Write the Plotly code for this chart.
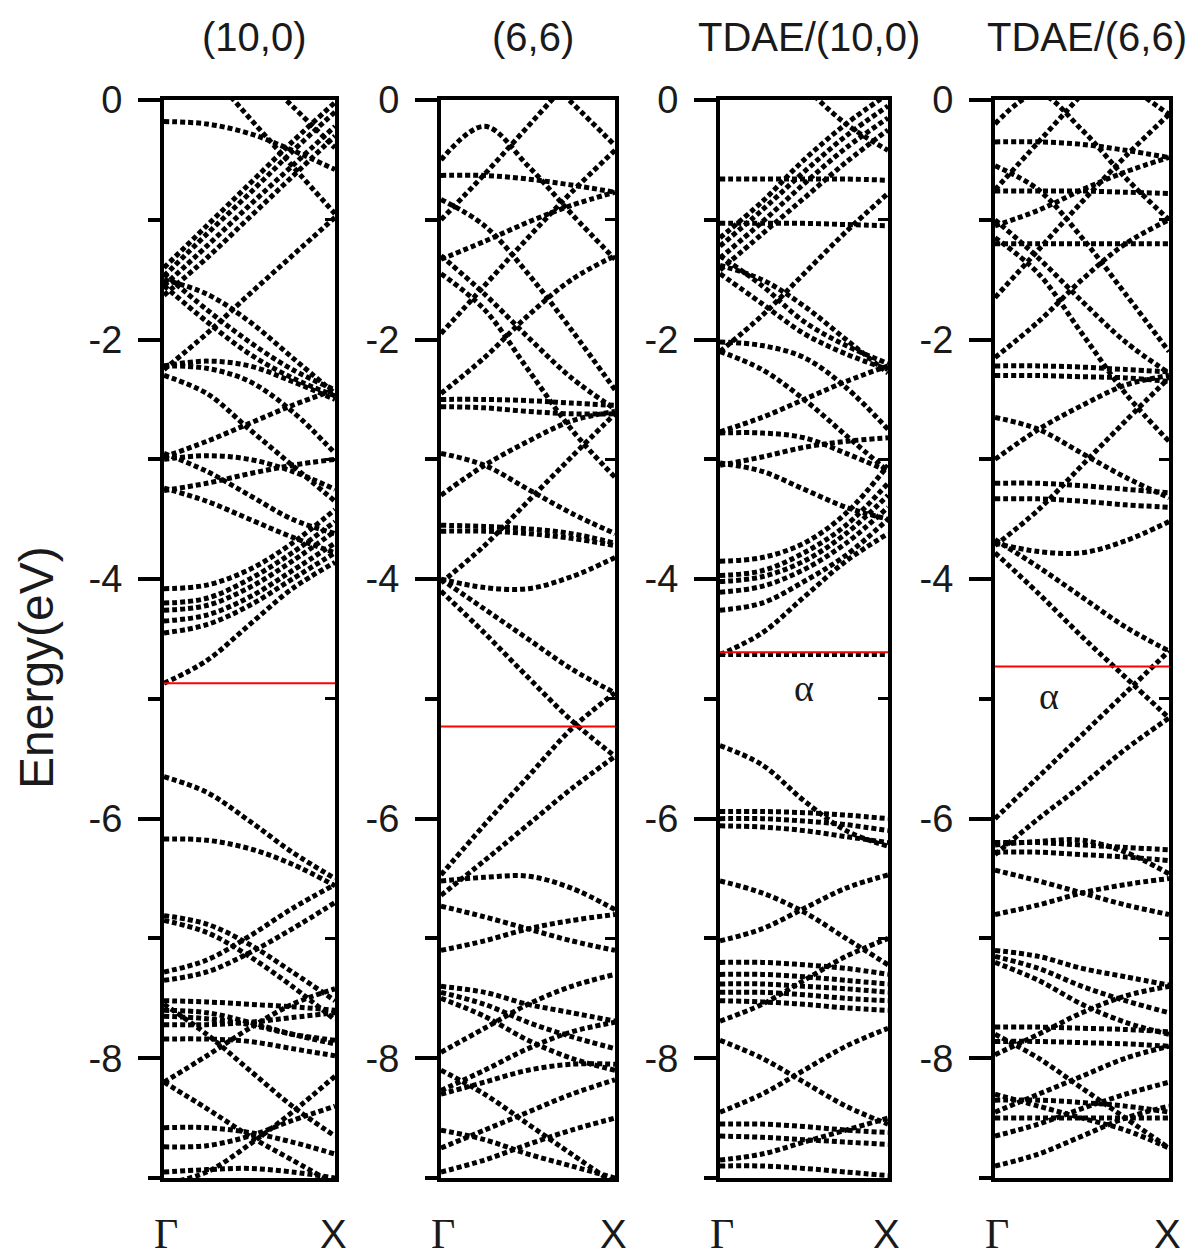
import plotly.graph_objects as go

# ---------------- data ----------------
K = [0.0, 0.25, 0.5, 0.75, 1.0]          # fractional k between Gamma and X
TITLES = ["(10,0)", "(6,6)", "TDAE/(10,0)", "TDAE/(6,6)"]
FERMI = [-4.87, -5.23, -4.61, -4.73]      # red Fermi-level lines (eV)
Y_TICKS = [0, -2, -4, -6, -8]
Y_TICK_TEXT = ["0", "-2", "-4", "-6", "-8"]
Y_MINOR = [-1, -3, -5, -7, -9]
K_LABELS = ["Γ", "X"]
ALPHA_PANELS = [2, 3]                     # panels carrying the "α" label
ALPHA_K = [0.5, 0.31]
ALPHA_E = [-4.91, -4.98]

BANDS_10_0 = [
    [-0.18, -0.20, -0.28, -0.42, -0.58],
    [0.60, 0.25, -0.15, -0.55, -0.95],
    [0.95, 0.65, 0.30, -0.05, -0.40],
    [-1.40, -1.05, -0.70, -0.35, -0.02],
    [-1.47, -1.12, -0.78, -0.43, -0.10],
    [-1.55, -1.22, -0.88, -0.55, -0.22],
    [-1.63, -1.32, -0.98, -0.64, -0.30],
    [-2.25, -1.95, -1.62, -1.30, -0.98],
    [-1.45, -1.75, -2.02, -2.25, -2.42],
    [-1.55, -1.85, -2.12, -2.32, -2.47],
    [-1.50, -1.62, -1.85, -2.15, -2.45],
    [-2.22, -2.24, -2.35, -2.60, -2.95],
    [-2.22, -2.18, -2.22, -2.35, -2.50],
    [-2.30, -2.45, -2.75, -3.05, -3.35],
    [-2.98, -2.85, -2.70, -2.55, -2.42],
    [-3.00, -2.97, -3.00, -3.10, -3.25],
    [-2.95, -3.10, -3.30, -3.50, -3.62],
    [-3.24, -3.35, -3.50, -3.65, -3.78],
    [-3.26, -3.20, -3.12, -3.05, -3.00],
    [-4.08, -4.05, -3.92, -3.70, -3.42],
    [-4.20, -4.16, -4.00, -3.78, -3.52],
    [-4.26, -4.22, -4.07, -3.85, -3.60],
    [-4.35, -4.30, -4.15, -3.93, -3.70],
    [-4.45, -4.38, -4.22, -4.00, -3.78],
    [-4.87, -4.68, -4.38, -4.08, -3.86],
    [-5.65, -5.78, -6.02, -6.28, -6.50],
    [-6.17, -6.18, -6.25, -6.38, -6.56],
    [-6.81, -6.88, -7.05, -7.28, -7.52],
    [-6.85, -6.95, -7.15, -7.40, -7.68],
    [-7.28, -7.18, -6.98, -6.75, -6.55],
    [-7.35, -7.28, -7.12, -6.92, -6.70],
    [-7.52, -7.53, -7.55, -7.57, -7.60],
    [-7.60, -7.62, -7.70, -7.80, -7.88],
    [-7.65, -7.67, -7.72, -7.80, -7.85],
    [-7.72, -7.72, -7.70, -7.66, -7.62],
    [-7.84, -7.84, -7.86, -7.92, -7.98],
    [-8.20, -7.98, -7.75, -7.55, -7.42],
    [-8.20, -8.42, -8.65, -8.85, -9.05],
    [-7.55, -7.80, -8.10, -8.40, -8.65],
    [-8.58, -8.58, -8.62, -8.70, -8.80],
    [-8.74, -8.73, -8.65, -8.52, -8.40],
    [-9.05, -8.95, -8.72, -8.45, -8.15],
    [-8.95, -8.93, -8.92, -8.95, -9.00],
]

BANDS_6_6 = [
    [-0.50, -0.22, -0.55, -0.95, -1.33],
    [-1.00, -0.62, -0.22, 0.18, 0.55],
    [1.00, 0.68, 0.32, -0.02, -0.38],
    [-1.95, -1.55, -1.15, -0.77, -0.42],
    [-0.63, -0.63, -0.66, -0.71, -0.77],
    [-1.33, -1.18, -1.02, -0.88, -0.77],
    [-0.83, -1.05, -1.45, -1.92, -2.42],
    [-1.30, -1.62, -1.98, -2.32, -2.58],
    [-2.45, -2.15, -1.80, -1.50, -1.30],
    [-1.45, -1.75, -2.25, -2.75, -3.15],
    [-2.50, -2.50, -2.51, -2.53, -2.55],
    [-2.56, -2.57, -2.60, -2.62, -2.62],
    [-2.95, -3.05, -3.25, -3.45, -3.62],
    [-3.30, -3.05, -2.85, -2.68, -2.60],
    [-3.55, -3.56, -3.58, -3.62, -3.70],
    [-3.60, -3.60, -3.62, -3.66, -3.72],
    [-4.00, -4.07, -4.08, -3.98, -3.82],
    [-4.03, -3.72, -3.35, -2.98, -2.62],
    [-4.00, -4.25, -4.50, -4.75, -4.95],
    [-4.10, -4.45, -4.82, -5.18, -5.48],
    [-6.47, -6.05, -5.65, -5.25, -4.95],
    [-6.64, -6.35, -6.05, -5.75, -5.48],
    [-6.52, -6.49, -6.48, -6.58, -6.76],
    [-6.73, -6.82, -6.92, -7.02, -7.10],
    [-7.10, -7.02, -6.92, -6.85, -6.80],
    [-7.40, -7.45, -7.55, -7.62, -7.69],
    [-7.45, -7.55, -7.70, -7.82, -7.92],
    [-7.50, -7.65, -7.85, -8.00, -8.10],
    [-7.95, -7.75, -7.55, -7.40, -7.30],
    [-8.27, -8.10, -7.92, -7.78, -7.70],
    [-8.30, -8.20, -8.10, -8.05, -8.05],
    [-8.60, -8.68, -8.80, -8.90, -9.00],
    [-8.75, -8.60, -8.45, -8.30, -8.18],
    [-8.10, -8.30, -8.55, -8.80, -9.05],
    [-8.95, -8.85, -8.72, -8.60, -8.50],
]

BANDS_TDAE_10_0 = [
    [0.85, 0.50, 0.12, -0.20, -0.42],
    [-0.66, -0.66, -0.66, -0.66, -0.67],
    [-1.03, -1.03, -1.03, -1.04, -1.05],
    [-1.15, -0.85, -0.50, -0.20, 0.05],
    [-1.22, -0.92, -0.60, -0.30, -0.05],
    [-1.32, -1.02, -0.70, -0.40, -0.15],
    [-1.42, -1.12, -0.82, -0.52, -0.25],
    [-2.10, -1.80, -1.45, -1.10, -0.78],
    [-1.30, -1.55, -1.85, -2.05, -2.20],
    [-1.45, -1.70, -1.95, -2.12, -2.25],
    [-1.38, -1.50, -1.72, -2.00, -2.28],
    [-2.02, -2.05, -2.15, -2.40, -2.75],
    [-2.10, -2.25, -2.50, -2.80, -3.10],
    [-2.77, -2.65, -2.50, -2.35, -2.22],
    [-2.78, -2.78, -2.82, -2.95, -3.10],
    [-3.03, -3.10, -3.25, -3.40, -3.50],
    [-3.05, -2.98, -2.90, -2.85, -2.82],
    [-3.85, -3.82, -3.70, -3.45, -3.05],
    [-3.97, -3.93, -3.78, -3.55, -3.20],
    [-4.02, -3.98, -3.85, -3.62, -3.30],
    [-4.11, -4.06, -3.92, -3.70, -3.40],
    [-4.26, -4.20, -4.02, -3.80, -3.50],
    [-4.63, -4.45, -4.15, -3.85, -3.62],
    [-4.63, -4.63, -4.63, -4.63, -4.63],
    [-5.39, -5.55, -5.85, -6.10, -6.23],
    [-5.94, -5.94, -5.95, -5.97, -6.00],
    [-6.00, -6.00, -6.02, -6.05, -6.10],
    [-6.06, -6.07, -6.10, -6.15, -6.20],
    [-6.52, -6.62, -6.78, -7.00, -7.22],
    [-7.02, -6.92, -6.75, -6.58, -6.47],
    [-7.20, -7.20, -7.22, -7.25, -7.30],
    [-7.30, -7.30, -7.32, -7.35, -7.38],
    [-7.38, -7.38, -7.40, -7.42, -7.45],
    [-7.45, -7.45, -7.47, -7.50, -7.52],
    [-7.52, -7.53, -7.55, -7.58, -7.60],
    [-7.69, -7.55, -7.35, -7.15, -7.00],
    [-7.85, -8.00, -8.20, -8.40, -8.55],
    [-8.45, -8.30, -8.10, -7.90, -7.75],
    [-8.55, -8.55, -8.57, -8.60, -8.62],
    [-8.65, -8.66, -8.68, -8.70, -8.72],
    [-8.85, -8.80, -8.70, -8.60, -8.50],
    [-8.90, -8.90, -8.92, -8.95, -8.98],
]

BANDS_TDAE_6_6 = [
    [-0.35, -0.35, -0.37, -0.42, -0.48],
    [-0.76, -0.76, -0.76, -0.77, -0.78],
    [-1.20, -1.20, -1.20, -1.20, -1.20],
    [-2.22, -2.22, -2.23, -2.25, -2.27],
    [-2.30, -2.30, -2.31, -2.32, -2.35],
    [-3.20, -3.20, -3.22, -3.25, -3.28],
    [-3.33, -3.33, -3.35, -3.38, -3.40],
    [-6.20, -6.20, -6.22, -6.24, -6.26],
    [-6.28, -6.28, -6.30, -6.32, -6.35],
    [-7.74, -7.74, -7.75, -7.76, -7.78],
    [-7.86, -7.86, -7.87, -7.88, -7.90],
    [-8.35, -8.35, -8.37, -8.40, -8.45],
    [-8.50, -8.50, -8.50, -8.50, -8.50],
    [-0.20, 0.05, -0.25, -0.65, -1.00],
    [-0.75, -0.35, 0.05, 0.45, 0.80],
    [1.20, 0.85, 0.50, 0.15, -0.12],
    [-1.65, -1.25, -0.85, -0.47, -0.12],
    [-1.05, -0.92, -0.75, -0.60, -0.48],
    [-0.55, -0.75, -1.15, -1.62, -2.10],
    [-1.00, -1.32, -1.68, -2.02, -2.28],
    [-2.15, -1.85, -1.50, -1.20, -1.00],
    [-1.15, -1.45, -1.95, -2.45, -2.85],
    [-2.65, -2.75, -2.95, -3.15, -3.32],
    [-3.00, -2.75, -2.55, -2.38, -2.30],
    [-3.70, -3.77, -3.78, -3.68, -3.52],
    [-3.72, -3.42, -3.05, -2.68, -2.32],
    [-3.67, -3.90, -4.15, -4.40, -4.60],
    [-3.78, -4.12, -4.48, -4.82, -5.16],
    [-6.00, -5.65, -5.30, -4.95, -4.60],
    [-6.30, -6.00, -5.72, -5.42, -5.16],
    [-6.22, -6.19, -6.18, -6.28, -6.46],
    [-6.43, -6.52, -6.62, -6.72, -6.80],
    [-6.80, -6.72, -6.62, -6.55, -6.50],
    [-7.10, -7.15, -7.25, -7.32, -7.39],
    [-7.15, -7.25, -7.40, -7.52, -7.62],
    [-7.20, -7.35, -7.55, -7.70, -7.80],
    [-7.97, -7.80, -7.62, -7.48, -7.40],
    [-8.30, -8.40, -8.50, -8.60, -8.75],
    [-8.45, -8.30, -8.15, -8.00, -7.90],
    [-7.80, -8.00, -8.25, -8.50, -8.75],
    [-8.65, -8.55, -8.42, -8.30, -8.20],
    [-8.90, -8.80, -8.65, -8.50, -8.40],
]

ALL_BANDS = [BANDS_10_0, BANDS_6_6, BANDS_TDAE_10_0, BANDS_TDAE_6_6]

# ---------------- layout geometry (pixels) ----------------
W, H = 1199, 1260
PANEL_LR = [(164, 335), (441, 615), (720, 888), (995, 1169)]
TOP_PX, BOT_PX = 100, 1178

def px_x(v):
    return v / W

def px_y(v):
    return 1 - v / H

fig = go.Figure()
FONT_SANS = "Liberation Sans, Arial, sans-serif"
FONT_SERIF = "Liberation Serif, Times New Roman, serif"
TXT = "#1a1a1a"

annotations = []
layout = dict(
    width=W, height=H,
    margin=dict(l=0, r=0, t=0, b=0, pad=0, autoexpand=False),
    paper_bgcolor="white", plot_bgcolor="white", showlegend=False,
)

for i, bands in enumerate(ALL_BANDS):
    n = i + 1
    xa = "x" if n == 1 else f"x{n}"
    ya = "y" if n == 1 else f"y{n}"
    ya_r = f"y{n + 4}"
    for b in bands:
        fig.add_trace(go.Scatter(
            x=K, y=b, mode="lines", xaxis=xa, yaxis=ya, hoverinfo="skip",
            line=dict(color="black", width=5, dash="5px,3px",
                      shape="spline", smoothing=1.0),
        ))
    fig.add_trace(go.Scatter(
        x=[K[0], K[-1]], y=[FERMI[i], FERMI[i]], mode="lines",
        xaxis=xa, yaxis=ya_r, hoverinfo="skip",
        line=dict(color="#ff0000", width=2),
    ))
    l, r = PANEL_LR[i]
    dom_x = [px_x(l), px_x(r)]
    dom_y = [px_y(BOT_PX), px_y(TOP_PX)]
    layout["xaxis" if n == 1 else f"xaxis{n}"] = dict(
        domain=dom_x, range=[0, 1], anchor=ya, showline=True, linewidth=4,
        linecolor="black", mirror=True, ticks="", showticklabels=False,
        showgrid=False, zeroline=False, fixedrange=True, automargin=False,
    )
    layout["yaxis" if n == 1 else f"yaxis{n}"] = dict(
        domain=dom_y, range=[-9, 0], anchor=xa, showline=True, linewidth=4,
        linecolor="black", mirror=True, ticks="outside",
        tickvals=Y_TICKS, ticktext=Y_TICK_TEXT, ticklen=22, tickwidth=4,
        tickcolor="black", ticklabelstandoff=8, automargin=False,
        tickfont=dict(family=FONT_SANS, size=38, color=TXT),
        minor=dict(tickvals=Y_MINOR, ticklen=12, tickwidth=4,
                   tickcolor="black", ticks="outside"),
        showgrid=False, zeroline=False, fixedrange=True,
    )
    layout[f"yaxis{n + 4}"] = dict(
        overlaying=ya, anchor=xa, side="right", range=[-9, 0],
        showline=False, ticks="inside", tickvals=Y_MINOR[:-1], ticklen=10,
        tickwidth=3, tickcolor="black", showticklabels=False, automargin=False,
        showgrid=False, zeroline=False, fixedrange=True,
    )
    # panel title
    annotations.append(dict(
        text=TITLES[i], x=px_x((l + r) / 2 + 5), y=px_y(37), xref="paper",
        yref="paper", showarrow=False, xanchor="center", yanchor="middle",
        font=dict(family=FONT_SANS, size=40, color=TXT),
    ))
    # k-point labels
    annotations.append(dict(
        text=K_LABELS[0], x=px_x(l + 2), y=px_y(1234), xref="paper",
        yref="paper", showarrow=False, xanchor="center", yanchor="middle",
        font=dict(family=FONT_SERIF, size=42, color=TXT),
    ))
    annotations.append(dict(
        text=K_LABELS[1], x=px_x(r - 2), y=px_y(1234), xref="paper",
        yref="paper", showarrow=False, xanchor="center", yanchor="middle",
        font=dict(family=FONT_SANS, size=40, color=TXT),
    ))

for j, p in enumerate(ALPHA_PANELS):
    n = p + 1
    annotations.append(dict(
        text="α", x=ALPHA_K[j], y=ALPHA_E[j], xref=f"x{n}", yref=f"y{n}",
        showarrow=False, xanchor="center", yanchor="middle",
        font=dict(family=FONT_SERIF, size=38, color=TXT),
    ))

annotations.append(dict(
    text="Energy(eV)", x=px_x(36), y=px_y(668), xref="paper", yref="paper",
    showarrow=False, textangle=-90, xanchor="center", yanchor="middle",
    font=dict(family=FONT_SANS, size=48, color=TXT),
))

layout["annotations"] = annotations
fig.update_layout(**layout)
fig.write_html("out.html")
